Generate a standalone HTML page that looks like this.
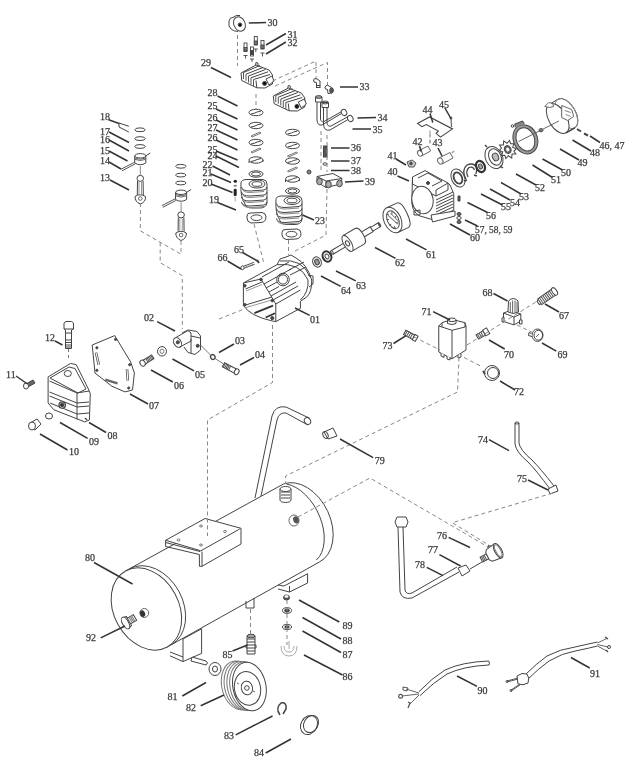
<!DOCTYPE html><html><head><meta charset="utf-8"><style>html,body{margin:0;padding:0;background:#fff;}svg{display:block;filter:blur(0.3px);}text{font-family:"Liberation Serif",serif;font-size:10px;fill:#3a3a3a;stroke:#3a3a3a;stroke-width:0.25px;}</style></head><body>
<svg width="640" height="768" viewBox="0 0 640 768">
<rect width="640" height="768" fill="#fff"/>
<g id="tank" fill="none" stroke="#444" stroke-width="1">
<!-- handle -->
<path d="M255,498 L272,416 Q275,405 286,407 L309,418" stroke-width="1"/>
<path d="M261,496 L277,420 Q279,412 286,413 L306,424" stroke-width="1"/>
<ellipse cx="307.5" cy="421" rx="3" ry="3.6" transform="rotate(-30 307.5 421)"/>
<!-- tank body lines -->
<path d="M125.5,571 L283.4,484"/>
<path d="M167.3,647 L319.4,562"/>
<!-- left cap -->
<ellipse cx="146.4" cy="609" rx="43.3" ry="32.4" transform="rotate(61.2 146.4 609)" fill="#fff"/>
<path d="M129.5,568.8 A43.3,32.4 61.2 0 1 171.3,644.7"/>
<!-- right cap -->
<path d="M283.4,484 A43,30 64 0 1 319.4,562"/>
<path d="M286.4,484 A43,27 64 0 1 316.4,560" />
<!-- mounting plate -->
<path d="M165.6,540.3 L205,518.5 L241,528.3 L200.8,550.8 Z" fill="#fff"/>
<path d="M165.6,540.3 L165.6,546.5 L199.4,554.5 L199.4,566.3 L202,566.3 L202,551.5 M165.6,542.5 L200,551.5"/>
<path d="M241,528.3 L241,544 L202,566.3" fill="#fff"/>
<g stroke="#777"><ellipse cx="178.5" cy="540" rx="1.5" ry="1"/><ellipse cx="201" cy="526" rx="1.5" ry="1"/><ellipse cx="201" cy="545" rx="1.5" ry="1"/><ellipse cx="225" cy="531.5" rx="1.5" ry="1"/></g>
<!-- top fitting -->
<path d="M280,489 L280,500 A5.5,2.5 0 0 0 291,500 L291,489" fill="#fff"/>
<ellipse cx="285.5" cy="489" rx="5.5" ry="2.5" fill="#fff"/>
<path d="M281,492 h9 M281,495 h9 M281,498 h9"/>
<!-- side port -->
<ellipse cx="294" cy="520.5" rx="5" ry="5.5" fill="#fff" stroke="#666"/>
<ellipse cx="296" cy="519.8" rx="2.8" ry="3.6" transform="rotate(-20 296 519.8)" fill="#555" stroke="none"/>
<!-- left port + valve 92 -->
<ellipse cx="144.3" cy="613" rx="4.4" ry="4.5" fill="#fff" stroke="#666"/>
<ellipse cx="142.6" cy="613.6" rx="2.5" ry="3.4" transform="rotate(-20 142.6 613.6)" fill="#333" stroke="none"/>
<g transform="translate(125.5 623) rotate(-30)">
<path d="M3,-3.3 L11,-3.3 L11,3.3 L3,3.3" fill="#fff"/>
<path d="M6,-3.3 v6.6 M7.5,-3.3 v6.6 M9,-3.3 v6.6" stroke="#777"/>
<path d="M0,-6.5 L4,-5 L4,5 L0,6.5" fill="#fff"/>
<ellipse cx="0" cy="0" rx="3" ry="6.5" fill="#fff"/>
</g>
<!-- left foot -->
<path d="M183,639 L201.6,628.8 L201.6,653.4 L183,661.6 Z" fill="#fff"/>
<path d="M170,655.8 L183,661.6 M170,652 L183,657"/>
<path d="M192,657 L206,661 Q209,663 206,665 L191,661 Z" fill="#fff"/>
<!-- right foot -->
<path d="M284,586 L307.6,573.75 L307.6,583 L289.5,592 L289.5,586" fill="#fff"/>
<path d="M278,589 L289.5,592 M278,585 L284,586"/>
<!-- drain boss -->
<path d="M246,601 L246,608 L254,608 L254,598"/>
</g>
<g id="top" fill="none" stroke="#444" stroke-width="1">
<!-- filter 30 -->
<path d="M233,17.5 Q230,17 229,21 Q228,27 231,29 Q234,31.5 238,31.5" fill="#fff"/>
<path d="M233,17.5 Q236,14.5 240,15.5" />
<ellipse cx="239.5" cy="24" rx="5.6" ry="7.5" transform="rotate(-25 239.5 24)" fill="#fff"/>
<circle cx="240" cy="24.8" r="1.8" fill="#111"/>
<!-- bolts 31/32 -->
<g stroke-width="0.9">
<rect x="244" y="43" width="3" height="8.5" fill="#fff"/><rect x="244" y="47.5" width="3" height="3.5" fill="#777"/><path d="M243.5,55.5 h4 M245.5,55.5 v3"/>
<rect x="254.3" y="36.5" width="3" height="8.5" fill="#fff"/><rect x="254.3" y="41" width="3" height="3.5" fill="#777"/><path d="M253.8,49 h4 M255.8,49 v3"/>
<rect x="261" y="40.5" width="3" height="8.5" fill="#fff"/><rect x="261" y="45" width="3" height="3.5" fill="#777"/><path d="M260.5,53 h4 M262.5,53 v3.5"/>
<rect x="250.5" y="47" width="3" height="9" fill="#fff"/><rect x="250.5" y="50.5" width="3" height="4" fill="#444"/><path d="M250,59 h4 M252,59 v3"/>
</g>
<!-- head 29 -->
<path d="M241.0,73.0 L256.0,65.0 L269.0,70.0 L272.5,75.0 L272.5,84.0 L265.0,88.0 L256.8,87.8 L241.8,80.6 Z" fill="#fff"/>
<path d="M243.5,72.5 L260.0,65.5"/>
<path d="M243.5,72.5 L243.5,79.0" stroke="#555"/>
<path d="M246.0,74.2 L263.0,67.5"/>
<path d="M246.0,74.2 L246.0,80.7" stroke="#555"/>
<path d="M248.5,76.0 L265.5,69.5"/>
<path d="M248.5,76.0 L248.5,82.5" stroke="#555"/>
<path d="M251.0,77.8 L268.0,71.8"/>
<path d="M251.0,77.8 L251.0,84.3" stroke="#555"/>
<path d="M253.5,79.5 L270.0,74.5"/>
<path d="M253.5,79.5 L253.5,86.0" stroke="#555"/>
<path d="M256.0,80.5 L256.8,87.8"/>
<path d="M266.0,79.0 L272.0,76.0 L274.0,81.0 L269.0,85.0 Z" fill="#fff"/>
<circle cx="264.6" cy="83.4" r="2" fill="#111"/>
<path d="M255.5,65.0 l0.5,-2.5 l2,0.5 l0,2" stroke-width="1"/>
<!-- head 2 -->
<path d="M273.3,96.0 L288.3,88.0 L301.3,93.0 L304.8,98.0 L304.8,107.0 L297.3,111.0 L289.1,110.8 L274.1,103.6 Z" fill="#fff"/>
<path d="M275.8,95.5 L292.3,88.5"/>
<path d="M275.8,95.5 L275.8,102.0" stroke="#555"/>
<path d="M278.3,97.2 L295.3,90.5"/>
<path d="M278.3,97.2 L278.3,103.7" stroke="#555"/>
<path d="M280.8,99.0 L297.8,92.5"/>
<path d="M280.8,99.0 L280.8,105.5" stroke="#555"/>
<path d="M283.3,100.8 L300.3,94.8"/>
<path d="M283.3,100.8 L283.3,107.3" stroke="#555"/>
<path d="M285.8,102.5 L302.3,97.5"/>
<path d="M285.8,102.5 L285.8,109.0" stroke="#555"/>
<path d="M288.3,103.5 L289.1,110.8"/>
<path d="M298.3,102.0 L304.3,99.0 L306.3,104.0 L301.3,108.0 Z" fill="#fff"/>
<circle cx="296.9" cy="106.4" r="2" fill="#111"/>
<path d="M287.8,88.0 l0.5,-2.5 l2,0.5 l0,2" stroke-width="1"/>
<!-- valve plates col1 -->
<g>
<ellipse cx="256.0" cy="112.5" rx="7" ry="3.2"/><path d="M251.0,114.0 L255.0,113.0 L257.0,112.0 L261.0,111.0" stroke="#444"/>
<ellipse cx="256.0" cy="125.5" rx="7" ry="3.2"/><path d="M251.0,127.0 L255.0,126.0 L257.0,125.0 L261.0,124.0" stroke="#444"/>
<path d="M251,136 L260,132 L261,133 L252,137 Z" stroke="#777"/>
<ellipse cx="256.0" cy="142.5" rx="7" ry="3.2"/><path d="M251.0,144.0 L255.0,143.0 L257.0,142.0 L261.0,141.0" stroke="#444"/>
<path d="M251,152 L260,148 L261,149 L252,153 Z" stroke="#777"/>
<ellipse cx="256.0" cy="160.0" rx="7" ry="3.2"/><path d="M251.0,161.5 L255.0,160.5 L257.0,159.5 L261.0,158.5" stroke="#444"/><path d="M249,161 v2 M263,160 v2"/>
<ellipse cx="256" cy="174" rx="7" ry="3.2"/><ellipse cx="256" cy="174" rx="4.5" ry="2"/>
</g>
<!-- cylinder 1 -->
<path d="M241.0,183.0 Q241.0,180.0 246.0,179.5 L263.0,179.5 Q267.0,180.0 267.0,184.0 L267.0,203.0 Q266.0,208.0 260.0,208.0 L252.0,208.0 Q246.0,208.0 245.0,204.0 Q240.0,197.0 241.0,183.0 Z" fill="#fff"/>
<ellipse cx="257" cy="184" rx="8" ry="4" fill="#fff"/><ellipse cx="257" cy="184" rx="5" ry="2.3"/>
<path d="M241.5,187.0 Q242.0,191.0 250.0,191.0 L264.0,190.0 Q267.0,189.0 267.0,187.0"/>
<path d="M242.0,188.5 Q243.0,192.5 250.0,192.5 L264.0,191.5" stroke="#888"/>
<path d="M241.5,192.0 Q242.0,196.0 250.0,196.0 L264.0,195.0 Q267.0,194.0 267.0,192.0"/>
<path d="M242.0,193.5 Q243.0,197.5 250.0,197.5 L264.0,196.5" stroke="#888"/>
<path d="M241.5,197.0 Q242.0,201.0 250.0,201.0 L264.0,200.0 Q267.0,199.0 267.0,197.0"/>
<path d="M242.0,198.5 Q243.0,202.5 250.0,202.5 L264.0,201.5" stroke="#888"/>
<path d="M241.5,202.0 Q242.0,206.0 250.0,206.0 L264.0,205.0 Q267.0,204.0 267.0,202.0"/>
<path d="M242.0,203.5 Q243.0,207.5 250.0,207.5 L264.0,206.5" stroke="#888"/>
<path d="M247.0,216.0 Q247.0,212.5 251.0,213.0 L262.0,212.5 Q266.0,213.0 266.0,217.0 Q266.0,222.0 261.0,222.5 L251.0,223.0 Q247.0,222.0 247.0,218.0 Z"/>
<ellipse cx="256.5" cy="217.7" rx="5.5" ry="2.8"/>
<!-- parts 20-22 -->
<ellipse cx="235.3" cy="181.2" rx="1.7" ry="1.5" fill="#222" stroke="none"/>
<ellipse cx="235.2" cy="185.7" rx="1.8" ry="1" fill="#888" stroke="none"/>
<rect x="233.7" y="188.7" width="3" height="7.3" rx="1.3" fill="#222" stroke="none"/>
<path d="M235.2,196.5 L235.2,201.5" stroke="#aaa"/>
<!-- valve plates col2 -->
<g>
<ellipse cx="292.5" cy="132.5" rx="7" ry="3.2"/><path d="M287.5,134.0 L291.5,133.0 L293.5,132.0 L297.5,131.0" stroke="#444"/>
<ellipse cx="292.5" cy="145.5" rx="7" ry="3.2"/><path d="M287.5,147.0 L291.5,146.0 L293.5,145.0 L297.5,144.0" stroke="#444"/>
<path d="M287.5,156 L296.5,152 L297.5,153 L288.5,157 Z" stroke="#777"/>
<ellipse cx="292.5" cy="161.0" rx="7" ry="3.2"/><path d="M287.5,162.5 L291.5,161.5 L293.5,160.5 L297.5,159.5" stroke="#444"/>
<path d="M287.5,171 L296.5,167 L297.5,168 L288.5,172 Z" stroke="#777"/>
<ellipse cx="292.5" cy="179.0" rx="7" ry="3.2"/><path d="M287.5,180.5 L291.5,179.5 L293.5,178.5 L297.5,177.5" stroke="#444"/><path d="M285.5,180 v2 M299.5,179 v2"/>
<ellipse cx="292.5" cy="191" rx="7" ry="3.2"/><ellipse cx="292.5" cy="191" rx="4.5" ry="2"/>
</g>
<!-- cylinder 2 -->
<path d="M276.0,199.5 Q276.0,196.5 281.0,196.0 L298.0,196.0 Q302.0,196.5 302.0,200.5 L302.0,219.5 Q301.0,224.5 295.0,224.5 L287.0,224.5 Q281.0,224.5 280.0,220.5 Q275.0,213.5 276.0,199.5 Z" fill="#fff"/>
<ellipse cx="292" cy="200.5" rx="8" ry="4" fill="#fff"/><ellipse cx="292" cy="200.5" rx="5" ry="2.3"/>
<path d="M276.5,203.5 Q277.0,207.5 285.0,207.5 L299.0,206.5 Q302.0,205.5 302.0,203.5"/>
<path d="M277.0,205.0 Q278.0,209.0 285.0,209.0 L299.0,208.0" stroke="#888"/>
<path d="M276.5,208.5 Q277.0,212.5 285.0,212.5 L299.0,211.5 Q302.0,210.5 302.0,208.5"/>
<path d="M277.0,210.0 Q278.0,214.0 285.0,214.0 L299.0,213.0" stroke="#888"/>
<path d="M276.5,213.5 Q277.0,217.5 285.0,217.5 L299.0,216.5 Q302.0,215.5 302.0,213.5"/>
<path d="M277.0,215.0 Q278.0,219.0 285.0,219.0 L299.0,218.0" stroke="#888"/>
<path d="M276.5,218.5 Q277.0,222.5 285.0,222.5 L299.0,221.5 Q302.0,220.5 302.0,218.5"/>
<path d="M277.0,220.0 Q278.0,224.0 285.0,224.0 L299.0,223.0" stroke="#888"/>
<path d="M282.0,232.5 Q282.0,229.0 286.0,229.5 L297.0,229.0 Q301.0,229.5 301.0,233.5 Q301.0,238.5 296.0,239.0 L286.0,239.5 Q282.0,238.5 282.0,234.5 Z"/>
<ellipse cx="291.5" cy="234.2" rx="5.5" ry="2.8"/>
<!-- elbows 33 -->
<path d="M313.5,80 Q314,78 316.5,78.5 L320,81 L320,87.5 L316.5,87.5 L316.5,82.5 L314,82 Z" fill="#fff"/>
<path d="M316,87.5 h4.5 M316.3,85.5 h4"/>
<path d="M325,87 Q325.5,85 328,85.5 L332.5,88 Q334,91 332,93 L328,93.5 L327.5,89.5 L325.5,89 Z" fill="#fff"/>
<ellipse cx="331.5" cy="90.5" rx="1.8" ry="2.4" fill="#555"/>
<!-- pipes 34/35 -->
<path d="M317,101 L317,120 Q317.5,126 322,125 L341.5,113.5"/>
<path d="M320.5,101 L320.5,119 Q321,122.5 324,121.5 L343.5,110.5"/>
<path d="M323.5,106 L323.5,124 Q324,131.5 330,130 L348,119.5"/>
<path d="M327,106 L327,123 Q327.5,127 331,126 L350,115.5"/>
<path d="M315.5,97 L322,97 L322,102 L315.5,102 Z" fill="#fff"/><ellipse cx="318.7" cy="97" rx="3.2" ry="1.4"/>
<path d="M322,102.5 L328.5,102.5 L328.5,107.5 L322,107.5 Z" fill="#fff"/><ellipse cx="325.2" cy="102.5" rx="3.2" ry="1.4"/>
<ellipse cx="344" cy="112.5" rx="2.6" ry="3.2" transform="rotate(-30 344 112.5)" fill="#fff"/>
<ellipse cx="350.3" cy="118.5" rx="2.6" ry="3.2" transform="rotate(-30 350.3 118.5)" fill="#fff"/>
<!-- 36 bolt, 37 washer, 38 -->
<rect x="323.5" y="146" width="3.5" height="11" fill="#555"/>
<ellipse cx="325" cy="164" rx="2" ry="1.2"/>
<!-- manifold 39 -->
<path d="M317,176.5 L333,173.5 L342,178.5 L341,184 L326,187.5 L317,182 Z" fill="#fff"/>
<path d="M317,176.5 L326,181 L342,178.5 M326,181 L326,187.5"/>
<ellipse cx="319.5" cy="181.5" rx="2.8" ry="3.3" fill="#aaa"/><ellipse cx="328.5" cy="184.5" rx="2.8" ry="3.3" fill="#aaa"/><ellipse cx="339.5" cy="183.5" rx="2.8" ry="3.3" fill="#aaa"/>
<circle cx="309" cy="172" r="2" fill="#888"/>
</g>
<g id="mid" fill="none" stroke="#444" stroke-width="1">
<!-- 18 circlip -->
<path d="M128.9,126.3 L119,123 L119,127 L128.9,132.1"/>
<!-- piston group 1 -->
<ellipse cx="140" cy="129.8" rx="5.2" ry="1.9"/><ellipse cx="140" cy="138.6" rx="5.2" ry="1.9"/><ellipse cx="140" cy="146.5" rx="5.2" ry="1.9"/>
<path d="M134.7,155.8 L134.7,163.0 Q140.3,166.5 145.8,163.0 L145.8,155.8" fill="#fff"/>
<ellipse cx="140.3" cy="155.8" rx="5.5" ry="2.2" fill="#fff"/>
<path d="M134.7,158.0 Q140.3,160.5 145.8,158.0 M134.7,159.3 Q140.3,161.8 145.8,159.3" stroke="#666"/>
<path d="M121.0,169.2 L135.0,162.0 M122.0,170.8 L135.0,164.0" stroke="#555"/>
<path d="M145.5,156.0 L150.3,153.0"/>
<path d="M140.3,166.0 L140.3,175.0" stroke="#888"/>
<ellipse cx="140.3" cy="178.4" rx="3.3" ry="3" fill="#fff"/>
<path d="M137.5,181.0 L137.3,195.0 M143.1,181.0 L143.3,195.0"/>
<path d="M139.0,182.0 L139.0,194.0 M141.5,182.0 L141.5,194.0" stroke="#999"/>
<path d="M135.0,196.5 Q140.3,193.0 145.5,196.5 Q146.0,202.0 140.3,204.0 Q135.0,202.0 135.0,196.5 Z" fill="#fff"/>
<circle cx="140.3" cy="198.5" r="1.8" stroke="#666"/>
<!-- piston group 2 -->
<ellipse cx="180.8" cy="166.3" rx="5.2" ry="1.9"/><ellipse cx="180.8" cy="175.1" rx="5.2" ry="1.9"/><ellipse cx="180.8" cy="183.0" rx="5.2" ry="1.9"/>
<path d="M175.5,192.3 L175.5,199.5 Q181.1,203.0 186.6,199.5 L186.6,192.3" fill="#fff"/>
<ellipse cx="181.10000000000002" cy="192.3" rx="5.5" ry="2.2" fill="#fff"/>
<path d="M175.5,194.5 Q181.1,197.0 186.6,194.5 M175.5,195.8 Q181.1,198.3 186.6,195.8" stroke="#666"/>
<path d="M161.8,205.7 L175.8,198.5 M162.8,207.3 L175.8,200.5" stroke="#555"/>
<path d="M186.3,192.5 L191.1,189.5"/>
<path d="M181.1,202.5 L181.1,211.5" stroke="#888"/>
<ellipse cx="181.10000000000002" cy="214.9" rx="3.3" ry="3" fill="#fff"/>
<path d="M178.3,217.5 L178.1,231.5 M183.9,217.5 L184.1,231.5"/>
<path d="M179.8,218.5 L179.8,230.5 M182.3,218.5 L182.3,230.5" stroke="#999"/>
<path d="M175.8,233.0 Q181.1,229.5 186.3,233.0 Q186.8,238.5 181.1,240.5 Q175.8,238.5 175.8,233.0 Z" fill="#fff"/>
<circle cx="181.10000000000002" cy="235.0" r="1.8" stroke="#666"/>
<!-- crankcase 01 -->
<path d="M243.4,283 L277,264.7 L280,259 L286,257 L291,255 L296,258 Q307,264 311.7,280 Q312,292 306.7,297 L300.4,301.3 L300.4,308.3 L275.8,321.6 L272.3,321 Q250,316 243.4,305.5 Z" fill="#fff"/>
<path d="M277,264.7 Q300,262 308,280 Q309,292 300.4,300"/>
<path d="M280,261 Q303,258 310,277"/>
<path d="M275.8,304 L300.4,290 M275.8,304 L275.8,321.6"/>
<path d="M261,279 L275.8,304"/>
<path d="M243.4,283 L261,279"/>
<circle cx="283" cy="279.5" r="6.3" fill="#fff"/><circle cx="283" cy="279.5" r="4.6"/>
<path d="M264,284 L291,269 M266,288 L277,282 M269,292 L279,286.5 M271,296 L296,282 M273,300 L298,286"/>
<path d="M262,277 L289,262 M289,270 L304,262 M290,275 L306,267"/>
<path d="M245.5,289 L262,282 M245.5,305 L272,297"/><path d="M254.4,313.2 L273,305.6 M265.7,317.5 L275,313.2" stroke-width="1.8" stroke="#333"/>
<path d="M246,291 L262,284.5 M246,307.5 L272,300" stroke="#999"/>
<circle cx="244.8" cy="285.8" r="1.3" fill="#444"/><circle cx="261" cy="279.5" r="1.3" fill="#444"/><circle cx="244.8" cy="304.8" r="1.3" fill="#444"/><circle cx="272.3" cy="300.6" r="1.3" fill="#444"/><circle cx="272.3" cy="318.1" r="1.6" fill="#444"/>
<path d="M308,275 L313,276 L313,284 L309,287"/>
<!-- 66 bolt, 65 -->
<path d="M243.5,266.3 L254,262.3 M244.3,268.2 L254.8,264.2" stroke="#555"/><path d="M246,266 l0.6,1.6 M248,265.2 l0.6,1.6 M250,264.4 l0.6,1.6 M252,263.6 l0.6,1.6" stroke="#777"/><ellipse cx="242.5" cy="267.8" rx="1.6" ry="2" fill="#fff"/>
<path d="M257,260 l2,3" stroke-width="2"/>
<!-- bearings 63/64 -->
<ellipse cx="317" cy="262" rx="4.2" ry="5.3" transform="rotate(-25 317 262)" fill="#fff"/><ellipse cx="317" cy="262" rx="2.2" ry="2.9" transform="rotate(-25 317 262)" fill="#999"/>
<ellipse cx="327" cy="256.5" rx="4.2" ry="5.3" transform="rotate(-25 327 256.5)" fill="#fff" stroke-width="2" stroke="#333"/><ellipse cx="327" cy="256.5" rx="1.8" ry="2.5" transform="rotate(-25 327 256.5)"/>
<!-- shaft 62 -->
<g transform="translate(332 252.5) rotate(-30.4)">
<path d="M0,-2 L14,-2 M0,2 L14,2"/>
<ellipse cx="0" cy="0" rx="1" ry="2" fill="#fff"/>
<path d="M18,-9 L32,-9 Q36,-9 36,0 Q36,9 32,9 L18,9" fill="#fff"/>
<ellipse cx="18" cy="0" rx="3.8" ry="9" fill="#fff"/>
<ellipse cx="18" cy="0" rx="1.8" ry="2.8"/>
<path d="M36,-2.8 L46,-2.8 L46,2.8 L36,2.8 M46,-2.2 L55,-2.2 L55,2.2 L46,2.2"/>
<ellipse cx="55" cy="0" rx="0.8" ry="2.2"/>
</g>
<!-- stator 61 -->
<g transform="translate(392.5 220) rotate(-25)">
<path d="M0,-13.5 L11,-13.5 Q16,-13.5 16,0 Q16,13.5 11,13.5 L0,13.5" fill="#fff"/>
<ellipse cx="0" cy="0" rx="8.5" ry="13.5" fill="#fff"/>
<ellipse cx="0.5" cy="0" rx="5.5" ry="9.5"/>
<path d="M-3,-8 l2,2 M3,-8 l-1,2.5 M5,-2 l-2,1 M4,5 l-2,-1 M-1,9 l0,-2.5 M-5,4 l2,-1 M-5,-3 l2,1" stroke="#555"/>
<path d="M-2,-6 L3,6 M1,-7 L5,4" stroke="#777"/>
</g>
<!-- 02 pivot block -->
<path d="M182,333 L188,330 L197,331.5 L200.5,336 L200.5,350 L195,354.4 L188,352.5 L184,347" fill="#fff"/>
<path d="M176,337.5 L188,330.5 L191,333 L191,341 L179,347.5 Z" fill="#fff"/>
<ellipse cx="177.5" cy="342.5" rx="3.6" ry="5.2" transform="rotate(-30 177.5 342.5)" fill="#fff"/>
<circle cx="177.8" cy="342.3" r="1.6" fill="#555"/>
<path d="M191,339 L191,353 M191,336 L200,338"/>
<circle cx="197.7" cy="345.8" r="1.5" fill="#444"/>
<!-- 03 washer, 04 bolt -->
<ellipse cx="212.8" cy="357" rx="2.2" ry="2.5" transform="rotate(-30 212.8 357)" stroke-width="1.3"/>
<g transform="translate(230.5 368.5) rotate(28)">
<path d="M-8,-2.3 L6,-2.3 L6,2.3 L-8,2.3 Z" fill="#fff"/>
<path d="M-7,-2.3 v4.6 M-5.5,-2.3 v4.6 M-4,-2.3 v4.6 M-2.5,-2.3 v4.6 M-1,-2.3 v4.6" stroke="#555"/>
<ellipse cx="7" cy="0" rx="2.2" ry="3" fill="#fff"/>
</g>
<path d="M200.5,345 L211,355.5 M215,358.5 L223,363.5" stroke="#777"/>
<!-- 05 washer, 06 bolt -->
<ellipse cx="162" cy="351.3" rx="4.5" ry="4.7"/><ellipse cx="162" cy="351.3" rx="2" ry="2.2" stroke="#777"/>
<g transform="translate(146 361) rotate(-32)">
<path d="M-3,-2.2 L8,-2.2 L8,2.2 L-3,2.2 Z" fill="#fff"/>
<path d="M1,-2.2 v4.4 M2.5,-2.2 v4.4 M4,-2.2 v4.4 M5.5,-2.2 v4.4 M7,-2.2 v4.4" stroke="#555"/>
<ellipse cx="-4" cy="0" rx="2.5" ry="3.2" fill="#fff"/>
</g>
<!-- plate 07 -->
<path d="M92.2,345 L114.7,335.6 L130.6,361.9 L134.4,373 L132.5,390 L125,391.9 L111.9,386.25 L95,373 Z" fill="#fff"/>
<path d="M96,352.5 L98.75,364.7 M127,369 L127.8,380.6" stroke-width="2.6" stroke="#555"/>
<path d="M96,352.5 L98.75,364.7 M127,369 L127.8,380.6" stroke-width="1" stroke="#fff"/>
<path d="M105.3,379.7 L117.5,383.4" stroke-width="2.4" stroke="#666"/>
<circle cx="96.9" cy="347.8" r="1.1" fill="#444"/><circle cx="115.6" cy="339.4" r="1.1" fill="#444"/><circle cx="96.9" cy="370.3" r="1.1" fill="#444"/><circle cx="129.7" cy="364.7" r="1.1" fill="#444"/><circle cx="128.75" cy="388" r="1.1" fill="#444"/>
<!-- 12 fitting -->
<path d="M64,323 L66,321.5 L71.5,321.5 L73.5,323 L73.5,329 L71.5,330 L71.5,348.5 L65.5,348.5 L65.5,330 L64,329 Z" fill="#fff"/>
<path d="M64,329 h9.5 M65.5,333 h6 M65.5,340 h6 M65.5,342.5 h6 M65.5,345 h6 M65.5,347 h6"/>
<path d="M68.5,349 L68.5,360" stroke-dasharray="3 3" stroke="#777"/>
<!-- cover 08 -->
<path d="M48.1,376.9 L70.6,363.4 L76.25,364.7 L88.4,389 L90.3,393.75 L89.4,420 L84.7,421.9 L53.75,409.7 L48.1,403 Z" fill="#fff"/>
<path d="M50,378 L69,367 L75,368.5 L86,389 L78,393 Z"/>
<path d="M49.5,381 L77,393 L89,391 M77,393 L77,419.5"/>
<path d="M49.5,392 L77,403 L89,402 M49.5,396 L77,407 L89,406 M50,403 L77,414 L89,413"/>
<ellipse cx="67.8" cy="373.5" rx="3.6" ry="3" fill="#fff"/>
<circle cx="62.2" cy="405" r="3.2" fill="#fff" stroke-width="1.3"/><circle cx="62.2" cy="405" r="1.8" fill="#333"/>
<path d="M85,418 l2,2" stroke-width="1.5"/>
<!-- 11 bolt -->
<path d="M26,384 L33,380 L35,383 L28,387 Z" fill="#666"/>
<ellipse cx="26" cy="386" rx="2.5" ry="3" fill="#fff"/>
<!-- 09 washer, 10 plug -->
<ellipse cx="49" cy="416" rx="3.5" ry="3"/>
<path d="M30,423 L37,419 L41,424 L35,430 L30,428 Z" fill="#fff"/>
<ellipse cx="32" cy="426" rx="3.5" ry="4" fill="#fff"/>
</g>
<g id="right" fill="none" stroke="#444" stroke-width="1">
<!-- 44 plate -->
<path d="M417.5,123.4 L429.5,116.9 L452.5,128.9 L440.5,137.1 L436.1,133.3 L438.3,131.1 L426.3,124.5 L421.9,126.7 Z" fill="#fff" stroke-width="1.1"/>
<path d="M451,118 L451.5,127" stroke="#666" stroke-width="1.2"/><circle cx="451" cy="118" r="1"/>
<path d="M430,130 L430,144" stroke="#aaa" stroke-dasharray="3 2"/>
<!-- 42, 43 capacitors -->
<path d="M419,150.5 L428,146 L430.6,151 L421.5,156 Z" fill="#fff" stroke="#666"/><ellipse cx="420" cy="153.3" rx="2.3" ry="3" transform="rotate(-30 420 153.3)" fill="#fff" stroke="#666"/>
<path d="M439,158 L450,152.5 L453,158 L442,164 Z" fill="#fff" stroke="#666"/><ellipse cx="440.3" cy="161" rx="2.5" ry="3.2" transform="rotate(-30 440.3 161)" fill="#fff" stroke="#666"/>
<path d="M452,153 l2,-2" stroke="#999" stroke-width="1.5"/>
<!-- 41 -->
<path d="M407,162 L412,160 L416,163 L414,167 L409,167 Z" fill="#ccc" stroke="#555"/>
<circle cx="411" cy="163.5" r="1.3" fill="#555"/>
<!-- motor 40 -->
<path d="M412.5,177 L425,170.6 L448,183 L450,185 L453.75,193.75 L453.75,210 L433.75,220 L420,216 Q410,212 412,195 Z" fill="#fff"/>
<path d="M412.5,177 L412.5,184 L436,196 L448,190 L448,183 M436,196 L436,190 L448,183"/>
<path d="M418,178 L428,173 L442,181 L432,186"/>
<ellipse cx="422.5" cy="200" rx="10.6" ry="13.75" transform="rotate(-10 422.5 200)" fill="#fff"/>
<path d="M436,200 L453,192 M436,203 L453,195 M436,206 L453,198 M436,209 L453,201 M436,212 L453,204 M436,215 L453,207"/>
<path d="M431,215 L455,211 L455,216 L432.5,222 Z" fill="#fff"/>
<circle cx="428" cy="183" r="1.5" fill="#444"/>
<path d="M414,211 L420,210 L420,215 L414,215 Z"/>
<!-- 55 ring, 54 clip, 53 bearing, 52 endplate -->
<ellipse cx="458" cy="178" rx="6.5" ry="9.5" transform="rotate(-25 458 178)"/><ellipse cx="458" cy="178" rx="4" ry="6" transform="rotate(-25 458 178)" stroke-width="1.8"/>
<path d="M466,179 Q461,170 467,165 Q474,162 477,168 L476,174 M468,177 Q465,171 469,167.5 Q473,166 474.5,170" stroke-width="1.3"/><path d="M464,181 l3,-1 M474,175 l3,1" stroke-width="1.5"/>
<ellipse cx="480.5" cy="166.5" rx="4.2" ry="5.8" transform="rotate(-25 480.5 166.5)" stroke-width="2.2" stroke="#333"/><ellipse cx="480.5" cy="166.5" rx="1.8" ry="2.5" transform="rotate(-25 480.5 166.5)" fill="#aaa"/>
<ellipse cx="494" cy="157.5" rx="8.5" ry="11.5" transform="rotate(-25 494 157.5)" fill="#fff"/>
<ellipse cx="495" cy="157" rx="6" ry="8.5" transform="rotate(-25 495 157)"/>
<ellipse cx="495.5" cy="157" rx="3" ry="4" transform="rotate(-25 495.5 157)" fill="#bbb"/>
<path d="M487,147 l-2,-2 M500,166 l3,2" stroke-width="1.5"/>
<!-- 50 impeller -->
<g transform="translate(507.7 149.5) rotate(-25)">
<path d="M0,-9.5 L2,-6 L5.5,-7.5 L5,-4 L8,-2.5 L5.5,0 L8,3 L5,4 L5.5,7.5 L2,6 L0,9.5 L-2,6 L-5.5,7.5 L-5,4 L-8,3 L-5.5,0 L-8,-2.5 L-5,-4 L-5.5,-7.5 L-2,-6 Z" fill="#fff" stroke-width="1"/>
<ellipse rx="3.2" ry="4" fill="#666"/><ellipse rx="1.5" ry="2" fill="#fff" stroke="none"/>
</g>
<!-- 49 fan ring -->
<g transform="translate(525.4 139.3) rotate(-22)">
<path d="M-12,0 A12,15 0 1 0 12,0 A12,15 0 1 0 -12,0 Z M-9,0 A9,12 0 1 1 9,0 A9,12 0 1 1 -9,0 Z" fill="#999" fill-rule="evenodd" stroke="#444"/>
<path d="M-5,-15 L-4,-18 L4,-18 L5,-15" fill="#888"/>
</g>
<circle cx="512.5" cy="126" r="1.3"/>
<ellipse cx="541" cy="130.2" rx="2" ry="1.6" fill="#999"/>
<!-- 48 fan cover -->
<g transform="translate(557.7 118.5)">
<path d="M-8.25,-14.3 L0.45,-19.3 A16.5,9 60 0 1 17.15,9.3 L8.25,14.3 Z" fill="#fff"/>
<ellipse cx="8.7" cy="-5" rx="16.5" ry="9" transform="rotate(60 8.7 -5)" stroke="#888" fill="none" stroke-dasharray="0"/>
<ellipse cx="0" cy="0" rx="16.5" ry="9" transform="rotate(60)" fill="#fff"/>
<path d="M4,-13 L14,-9 L16,-2 L10,2 L4,-1 Z" stroke="#666" fill="#fff"/>
<path d="M7,-8 L13,-6 M8,-4 L13,-2" stroke="#888"/>
<path d="M-13,-12 L-9,-16 L-5,-15 L-4,-12 L-8,-11 Z" fill="#fff" stroke="#666"/>
<path d="M8.25,14.3 L17.15,9.3" stroke-width="1.5"/>
</g>
<path d="M577,129 L581,131.5 M584,133.5 L588,135.5" stroke-width="2"/>
<!-- axis -->
<path d="M518.5,141.6 L558.8,121" stroke="#666"/>
<!-- 56 screw, 57-59 -->
<path d="M458,196 L460,196 L460,201 L458,201 Z" fill="#555"/>
<ellipse cx="459" cy="214" rx="2" ry="1.5" fill="#666"/><ellipse cx="459" cy="218" rx="2.2" ry="1.5"/><ellipse cx="459" cy="222" rx="2" ry="1.5" fill="#666"/>
<!-- pressure switch 71 -->
<path d="M438.75,326 L442,322.7 L452,319.4 L465,322.7 L466,326 L466,350 L452,358.8 L438.75,352 Z" fill="#fff"/>
<path d="M442,322.7 L442,327 L452,330.3 L465,327 L465,322.7 M438.75,326 L442,327 M452,330.3 L452,358.8 M465,327 L466,326"/>
<path d="M447.5,320 L447.5,323.5 Q452,325.5 456,323.5 L456,320" fill="#fff"/><ellipse cx="451.8" cy="319.8" rx="4.2" ry="1.8" fill="#fff"/>
<path d="M441,353 l0,3 l3,1.5 l0,-3 M447,356 l0,3 l3,1 l0,-3 M458,355 l0,3 l3,-1 l0,-3" fill="#fff"/>
<!-- 73 -->
<g transform="translate(410.5 335.5) rotate(28)">
<rect x="-6.5" y="-2.5" width="10" height="5" fill="#fff"/><path d="M-5,-2.5 v5 M-3,-2.5 v5 M-1,-2.5 v5 M1,-2.5 v5" stroke="#555"/>
<path d="M3.5,-3 L7,-3 L7,3 L3.5,3 Z" fill="#fff"/>
</g>
<!-- 70 -->
<g transform="translate(482.5 334) rotate(-30)">
<rect x="-6" y="-2.5" width="8" height="5" fill="#fff"/><path d="M-4.5,-2.5 v5 M-2.5,-2.5 v5 M-0.5,-2.5 v5" stroke="#555"/>
<path d="M2,-3.3 L6.5,-3.3 L6.5,3.3 L2,3.3 Z" fill="#fff"/>
</g>
<!-- regulator 68 -->
<path d="M503.5,313 L510,310.6 L520.8,314 L520.8,321 L514,324.9 L503.5,321.5 Z" fill="#fff"/>
<path d="M503.5,313 L514,317 L520.8,314 M514,317 L514,324.9"/>
<path d="M502,318 L504,317 L504,322 L502,322 Z M519.5,320 L522,320 L522,324 L519.5,324 Z" fill="#fff"/>
<path d="M508,312 L508.5,301 Q513,296 518,301 L518.5,312 Q513,315 508,312 Z" fill="#fff"/>
<path d="M510.3,302 v10.5 M512.6,300.5 v12.5 M515,300.5 v12.5 M517,302 v10.5" stroke="#666"/>
<!-- 67 -->
<g transform="translate(548 296) rotate(-35)">
<path d="M-10,-3.5 L8,-3.5 L8,3.5 L-10,3.5 Z" fill="#fff"/>
<path d="M-8,-3.5 v7 M-6,-3.5 v7 M-4,-3.5 v7 M-2,-3.5 v7 M0,-3.5 v7 M2,-3.5 v7 M4,-3.5 v7" stroke="#555"/>
<ellipse cx="8" cy="0" rx="2.2" ry="4.2" fill="#fff"/>
<path d="M-10,-2.5 L-12,-2 L-12,2 L-10,2.5"/>
</g>
<!-- gauge 69 -->
<ellipse cx="537.5" cy="335.2" rx="5.5" ry="6.2" fill="#fff"/><ellipse cx="538.3" cy="335.2" rx="4.3" ry="5" />
<path d="M536,337 l3,-3" stroke="#666"/>
<path d="M531.5,333.5 L529,332.5 L528.5,335.5 L532,336.5" fill="#fff"/>
<!-- gauge 72 -->
<circle cx="492" cy="373" r="7.5"/><circle cx="493" cy="373" r="5.5"/>
<path d="M483,371 l2,3" stroke-width="2"/>
<!-- 79 -->
<path d="M324,432 L333,428 L337,436 L328,439 Z" fill="#fff"/><ellipse cx="325.5" cy="435" rx="2.5" ry="3.5" transform="rotate(-25 325.5 435)"/>
<!-- tube 74 -->
<path d="M515,423 L515,444 Q516,452 528,462 Q536,470 550,489"/>
<path d="M519,423 L519,443 Q520,450 532,460 Q540,468 554,486"/>
<ellipse cx="517" cy="423" rx="2" ry="1"/>
<path d="M548,489 L556,485 L558,491 L550,494 Z" fill="#fff"/>
<!-- tube 78 -->
<path d="M398,527 L400,592 Q402,600 412,598 L459,572"/>
<path d="M403,527 L405,590 Q406,595 412,593 L457,567"/>
<path d="M397,517 L406,517 L408,522 L406,527 L397,527 L395,522 Z" fill="#fff"/>
<path d="M458,568 L466,565 L470,571 L462,576 Z" fill="#fff"/>
<path d="M470,569 L482,562"/>
<!-- valve 76 -->
<g transform="translate(492 554) rotate(-28)">
<path d="M-12,-2.8 L-5,-2.8 L-5,2.8 L-12,2.8 Z" fill="#fff"/>
<path d="M-10.5,-2.8 v5.6 M-9,-2.8 v5.6 M-7.5,-2.8 v5.6" stroke="#555"/>
<path d="M-5,-4 L-3,-6.5 L7,-8 L7,8 L-3,6.5 L-5,4 Z" fill="#fff"/>
<ellipse cx="7" cy="0" rx="3.5" ry="8" fill="#fff"/>
<ellipse cx="7" cy="0" rx="2.4" ry="6.5" stroke="#777"/>
<path d="M-1,-7 L1,-9 L3,-7.5" stroke-width="1.2"/>
</g>
<!-- cord 90 -->
<path d="M418.75,691.9 Q432,678 445,670 Q462,662 488.7,661"/>
<path d="M420,695.6 Q434,682 447,674 Q464,666 489,665"/>
<path d="M488.7,661 Q490,663 489,665"/>
<path d="M419,693 L406,689 M419,694 L402,696 M419,695 L409,705" stroke="#666"/>
<path d="M403,687 L408,688 L407,691 L403,690 Z" stroke="#555"/>
<circle cx="400.6" cy="696.2" r="1.9" stroke="#555" stroke-width="1.2"/>
<path d="M408,702 L410,703 L408,708" stroke="#555" stroke-width="1.3"/>
<!-- cord 91 -->
<path d="M526,674 Q536,664 547,656 Q560,649 575,647 Q588,644 597.5,642"/>
<path d="M528,679 Q538,669 549,661 Q562,653 577,650.6 Q590,648 597.5,646"/>
<path d="M517,676 Q522,672 527,674 Q530,678 528,683 Q523,686 518,684 Z" fill="#fff"/>
<path d="M518,678 L507,681 M518,679 L507,682 M520,684 L511,690 M520,685 L511,691" stroke="#555"/>
<circle cx="507" cy="681.5" r="1" /><circle cx="511" cy="690.5" r="1"/>
<path d="M597.5,643 L607,638.4 M597.5,644.5 L608,647 M597.5,646 L606,650.6" stroke="#666"/>
<path d="M605,637 l3,2 M606,650 l2,2" stroke-width="1.3"/><circle cx="609" cy="647" r="1.5"/>
</g>
<g id="bottom" fill="none" stroke="#444" stroke-width="1">
<!-- wheel 82 -->
<ellipse cx="238.2" cy="685.3" rx="16.5" ry="24.6" transform="rotate(-12 238.2 685.3)" fill="#fff" stroke="#777"/>
<ellipse cx="241.0" cy="685.6" rx="16.5" ry="24.6" transform="rotate(-12 241.0 685.6)" fill="#fff" stroke="#777"/>
<ellipse cx="243.8" cy="685.9" rx="16.5" ry="24.6" transform="rotate(-12 243.8 685.9)" fill="#fff" stroke="#777"/>
<ellipse cx="246.6" cy="686.2" rx="16.5" ry="24.6" transform="rotate(-12 246.6 686.2)" fill="#fff" stroke="#777"/>
<ellipse cx="249.4" cy="686.5" rx="16.5" ry="24.6" transform="rotate(-12 249.4 686.5)" fill="#fff"/>
<ellipse cx="247.5" cy="688.4" rx="13" ry="17" transform="rotate(-12 247.5 688.4)"/>
<ellipse cx="246.9" cy="688" rx="5.6" ry="6.9" transform="rotate(-12 246.9 688)"/>
<circle cx="246.9" cy="688" r="2.3"/>
<path d="M237,683 l2,1 M253,691 l2,1" stroke="#666"/>
<!-- washer 81 -->
<ellipse cx="215" cy="669" rx="6" ry="6.5"/><ellipse cx="215" cy="669" rx="2.5" ry="3"/>
<!-- drain valve 85 -->
<path d="M247,636 L255,636 L255,654 L247,654 Z" fill="#fff"/>
<path d="M247,639 h8 M247,642 h8 M246,645 h10 v3 h-10 Z M247,651 h8"/>
<ellipse cx="251" cy="636" rx="4" ry="1.8"/>
<!-- 86-89 -->
<ellipse cx="286.5" cy="597.5" rx="3" ry="2.5" fill="#555"/><ellipse cx="286.5" cy="596.5" rx="2" ry="1.2" fill="#fff" stroke="none"/>
<ellipse cx="287" cy="610.5" rx="4.5" ry="2.8"/><ellipse cx="287" cy="610.5" rx="2.5" ry="1.5" fill="#444"/>
<ellipse cx="287" cy="627" rx="4.5" ry="2.5"/><ellipse cx="287" cy="627" rx="2" ry="1" stroke-width="1.3"/>
<path d="M281,646 Q281,656 289,656 Q297,656 297,646 M284,646 Q284,652 289,652 Q294,652 294,646 M289,641 v8" stroke="#aaa"/>
<!-- clip 83 -->
<path d="M280,715 Q275,708 281,703 Q287,702 286,709 L283,714" stroke-width="1.5"/>
<!-- cap 84 -->
<ellipse cx="309" cy="725" rx="8" ry="10" transform="rotate(30 309 725)" fill="#fff"/>
<ellipse cx="311" cy="724" rx="7" ry="9" transform="rotate(30 311 724)"/>
</g>
<g id="dash" fill="none" stroke="#888" stroke-width="1" stroke-dasharray="4 3">
<path d="M237.5,35 L237.5,66"/>
<path d="M256,94 L256,110"/>
<path d="M272.5,81 L316,61 L316,80"/>
<path d="M275,86 L327.5,62.5 L327.5,86"/>
<path d="M321,131 L321,172"/>
<path d="M327,135 L327,172 M327,189 L326,235 L295,251"/>
<path d="M430,132.5 L430,145"/>
<path d="M140.5,203 L140.3,230.8 L181,254.2 L181,240.6"/>
<path d="M160.2,242.5 L160.2,262.7 L182.3,275.7 L182.3,329"/>
<path d="M254,224 L264,264"/>
<path d="M272.5,325 L272.5,382.5 L207.5,420 L207.5,536"/>
<path d="M219,319 L244,309"/>
<path d="M288.5,240 L288.5,255"/>
<path d="M298,517 L370,478 L489,547.5"/>
<path d="M492,547 L452.2,522.7 L552.2,493.2"/>
<path d="M414,337 L440,350"/>
<path d="M467,345 L539,300"/>
<path d="M517,325 L532.5,332.5"/>
<path d="M464,357.5 L482.5,367"/>
<path d="M459,357.5 L457.5,392 L285.6,476 L285.6,484"/>
<path d="M250.5,609 L250.5,634"/>
<path d="M287,600 L287,645"/>

</g>

<g stroke="#333" stroke-width="1.5" stroke-linecap="butt">
<line x1="248.8" y1="23.0" x2="266.0" y2="22.5"/>
<line x1="266.0" y1="45.0" x2="285.9" y2="33.5"/>
<line x1="266.0" y1="54.0" x2="285.9" y2="42.0"/>
<line x1="211.0" y1="67.5" x2="231.0" y2="77.5"/>
<line x1="340.0" y1="87.0" x2="358.0" y2="87.0"/>
<line x1="357.5" y1="118.0" x2="376.0" y2="117.5"/>
<line x1="352.5" y1="129.0" x2="371.0" y2="129.0"/>
<line x1="217.5" y1="96.0" x2="237.5" y2="106.0"/>
<line x1="216.0" y1="109.0" x2="237.5" y2="119.0"/>
<line x1="216.0" y1="120.0" x2="237.5" y2="130.0"/>
<line x1="216.0" y1="130.0" x2="237.5" y2="140.0"/>
<line x1="216.0" y1="140.0" x2="237.5" y2="150.0"/>
<line x1="216.0" y1="151.0" x2="237.5" y2="160.0"/>
<line x1="216.0" y1="156.0" x2="239.0" y2="167.5"/>
<line x1="212.5" y1="166.0" x2="230.0" y2="175.0"/>
<line x1="211.0" y1="174.0" x2="231.0" y2="182.5"/>
<line x1="211.0" y1="184.0" x2="232.5" y2="192.5"/>
<line x1="217.5" y1="202.5" x2="236.0" y2="210.0"/>
<line x1="108.7" y1="119.8" x2="119.0" y2="123.5"/>
<line x1="109.0" y1="132.0" x2="129.0" y2="142.5"/>
<line x1="109.0" y1="140.0" x2="129.0" y2="151.0"/>
<line x1="109.0" y1="151.0" x2="127.5" y2="161.0"/>
<line x1="109.0" y1="162.0" x2="121.0" y2="169.0"/>
<line x1="110.0" y1="180.0" x2="129.0" y2="190.0"/>
<line x1="302.5" y1="215.0" x2="314.0" y2="220.0"/>
<line x1="331.0" y1="148.0" x2="349.5" y2="148.0"/>
<line x1="331.0" y1="161.0" x2="349.5" y2="161.0"/>
<line x1="331.0" y1="170.5" x2="349.5" y2="170.5"/>
<line x1="345.0" y1="182.0" x2="363.5" y2="180.9"/>
<line x1="430.0" y1="113.5" x2="432.8" y2="122.4"/>
<line x1="444.9" y1="108.0" x2="450.9" y2="118.5"/>
<line x1="396.0" y1="159.0" x2="406.0" y2="165.0"/>
<line x1="397.5" y1="176.0" x2="409.0" y2="181.0"/>
<line x1="590.0" y1="136.0" x2="600.0" y2="142.5"/>
<line x1="572.5" y1="140.0" x2="591.0" y2="151.0"/>
<line x1="560.0" y1="149.0" x2="579.0" y2="160.0"/>
<line x1="542.5" y1="159.0" x2="562.5" y2="170.0"/>
<line x1="532.5" y1="165.0" x2="552.5" y2="177.5"/>
<line x1="516.0" y1="174.0" x2="536.0" y2="185.0"/>
<line x1="501.0" y1="182.5" x2="521.0" y2="194.0"/>
<line x1="490.0" y1="189.0" x2="510.0" y2="200.0"/>
<line x1="481.0" y1="194.0" x2="502.5" y2="205.0"/>
<line x1="467.5" y1="202.5" x2="487.5" y2="212.5"/>
<line x1="465.0" y1="220.0" x2="477.5" y2="226.0"/>
<line x1="450.0" y1="224.0" x2="470.0" y2="235.0"/>
<line x1="406.0" y1="239.0" x2="426.5" y2="249.8"/>
<line x1="375.0" y1="247.5" x2="395.5" y2="258.3"/>
<line x1="336.0" y1="271.0" x2="355.8" y2="280.9"/>
<line x1="321.0" y1="276.0" x2="340.7" y2="286.3"/>
<line x1="242.5" y1="252.5" x2="257.5" y2="261.0"/>
<line x1="227.5" y1="261.0" x2="241.0" y2="269.0"/>
<line x1="295.0" y1="308.0" x2="309.7" y2="315.3"/>
<line x1="157.2" y1="321.6" x2="175.0" y2="331.0"/>
<line x1="219.0" y1="352.5" x2="234.0" y2="344.0"/>
<line x1="240.0" y1="365.0" x2="254.0" y2="357.5"/>
<line x1="172.5" y1="359.0" x2="194.0" y2="370.8"/>
<line x1="151.0" y1="370.0" x2="172.8" y2="382.0"/>
<line x1="130.0" y1="394.0" x2="148.0" y2="404.0"/>
<line x1="89.0" y1="422.5" x2="106.1" y2="432.5"/>
<line x1="60.0" y1="422.5" x2="87.6" y2="438.4"/>
<line x1="40.0" y1="434.0" x2="67.5" y2="450.0"/>
<line x1="16.0" y1="376.0" x2="27.5" y2="384.0"/>
<line x1="55.0" y1="341.0" x2="62.5" y2="345.0"/>
<line x1="433.1" y1="311.6" x2="450.0" y2="320.0"/>
<line x1="393.5" y1="343.5" x2="406.0" y2="335.6"/>
<line x1="489.0" y1="340.0" x2="504.7" y2="349.0"/>
<line x1="493.5" y1="293.5" x2="507.5" y2="301.0"/>
<line x1="545.0" y1="304.0" x2="559.0" y2="312.0"/>
<line x1="542.0" y1="343.0" x2="556.3" y2="351.2"/>
<line x1="500.0" y1="381.0" x2="515.0" y2="390.0"/>
<line x1="340.0" y1="439.0" x2="373.1" y2="457.6"/>
<line x1="489.0" y1="439.7" x2="509.0" y2="450.6"/>
<line x1="528.0" y1="480.0" x2="548.0" y2="490.0"/>
<line x1="448.6" y1="537.4" x2="470.0" y2="547.5"/>
<line x1="439.4" y1="554.7" x2="460.6" y2="566.0"/>
<line x1="426.7" y1="567.3" x2="443.0" y2="575.6"/>
<line x1="94.0" y1="562.5" x2="132.5" y2="584.0"/>
<line x1="100.7" y1="637.9" x2="125.0" y2="626.0"/>
<line x1="232.5" y1="651.0" x2="247.5" y2="645.0"/>
<line x1="182.3" y1="696.0" x2="206.0" y2="682.5"/>
<line x1="200.7" y1="705.8" x2="224.0" y2="695.0"/>
<line x1="299.0" y1="600.0" x2="339.3" y2="622.0"/>
<line x1="302.5" y1="617.5" x2="341.0" y2="639.0"/>
<line x1="302.5" y1="631.0" x2="341.0" y2="652.5"/>
<line x1="304.0" y1="655.0" x2="342.5" y2="675.0"/>
<line x1="235.7" y1="734.9" x2="272.5" y2="716.0"/>
<line x1="265.7" y1="753.0" x2="291.0" y2="739.0"/>
<line x1="457.0" y1="676.0" x2="477.0" y2="686.3"/>
<line x1="571.0" y1="657.5" x2="589.7" y2="668.0"/>
<line x1="419.5" y1="146.0" x2="421.3" y2="151.5"/>
<line x1="438.0" y1="148.0" x2="442.0" y2="156.0"/>
</g><g>
<text x="267.5" y="25.8">30</text>
<text x="287.5" y="37.8">31</text>
<text x="287.5" y="46.3">32</text>
<text x="201" y="66.3">29</text>
<text x="359.5" y="89.8">33</text>
<text x="377.5" y="121.3">34</text>
<text x="372.5" y="132.8">35</text>
<text x="207.5" y="96.3">28</text>
<text x="207.5" y="109.3">25</text>
<text x="207.5" y="120.8">26</text>
<text x="207.5" y="131.3">27</text>
<text x="207.5" y="141.3">26</text>
<text x="207.5" y="152.8">25</text>
<text x="207.5" y="158.8">24</text>
<text x="202.5" y="167.8">22</text>
<text x="202.5" y="176.3">21</text>
<text x="202.5" y="186.3">20</text>
<text x="209" y="202.8">19</text>
<text x="100" y="119.8">18</text>
<text x="100" y="134.8">17</text>
<text x="100" y="142.8">16</text>
<text x="100" y="153.8">15</text>
<text x="100" y="164.3">14</text>
<text x="100" y="181.3">13</text>
<text x="315" y="223.8">23</text>
<text x="351" y="151.3">36</text>
<text x="351" y="163.8">37</text>
<text x="351" y="173.8">38</text>
<text x="365" y="184.8">39</text>
<text x="422.5" y="112.8">44</text>
<text x="439" y="107.8">45</text>
<text x="412.5" y="144.8">42</text>
<text x="432.5" y="146.3">43</text>
<text x="387.5" y="158.8">41</text>
<text x="387.5" y="174.8">40</text>
<text x="599.5" y="148.8">46, 47</text>
<text x="590" y="156.3">48</text>
<text x="577.5" y="166.3">49</text>
<text x="561" y="176.3">50</text>
<text x="551" y="182.8">51</text>
<text x="535" y="191.3">52</text>
<text x="519" y="199.8">53</text>
<text x="510" y="206.3">54</text>
<text x="501" y="209.8">55</text>
<text x="486" y="218.8">56</text>
<text x="475" y="232.8" textLength="37.5" lengthAdjust="spacingAndGlyphs">57, 58, 59</text>
<text x="470" y="241.3">60</text>
<text x="426" y="257.8">61</text>
<text x="395" y="266.3">62</text>
<text x="356" y="288.8">63</text>
<text x="341" y="293.8">64</text>
<text x="234" y="252.8">65</text>
<text x="217.5" y="261.3">66</text>
<text x="310" y="322.8">01</text>
<text x="144" y="321.3">02</text>
<text x="235" y="343.8">03</text>
<text x="255" y="357.8">04</text>
<text x="195" y="377.8">05</text>
<text x="174" y="388.8">06</text>
<text x="149" y="408.8">07</text>
<text x="107.5" y="438.8">08</text>
<text x="89" y="444.8">09</text>
<text x="69" y="454.8">10</text>
<text x="6" y="377.8">11</text>
<text x="45" y="341.3">12</text>
<text x="421.5" y="314.8">71</text>
<text x="382.5" y="348.8">73</text>
<text x="504" y="357.8">70</text>
<text x="482.5" y="296.3">68</text>
<text x="559" y="318.8">67</text>
<text x="557.5" y="357.8">69</text>
<text x="514" y="395.3">72</text>
<text x="374.7" y="463.5">79</text>
<text x="478" y="442.8">74</text>
<text x="517" y="482.2">75</text>
<text x="437" y="538.8">76</text>
<text x="428" y="552.8">77</text>
<text x="415" y="567.8">78</text>
<text x="85" y="561.3">80</text>
<text x="86" y="641.3">92</text>
<text x="222.5" y="657.8">85</text>
<text x="167.5" y="699.8">81</text>
<text x="186" y="711.3">82</text>
<text x="342.5" y="628.8">89</text>
<text x="342.5" y="643.8">88</text>
<text x="342.5" y="657.8">87</text>
<text x="342.5" y="679.8">86</text>
<text x="224" y="738.8">83</text>
<text x="254" y="756.3">84</text>
<text x="477.5" y="693.8">90</text>
<text x="590" y="676.8">91</text>
</g></svg></body></html>
